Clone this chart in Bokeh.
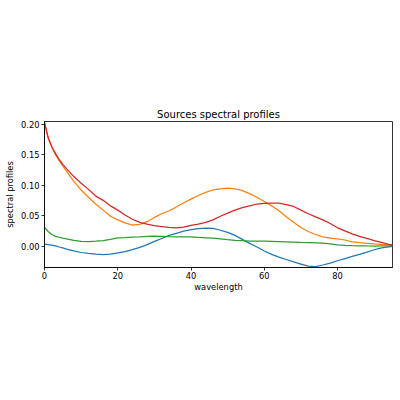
from bokeh.plotting import figure
from bokeh.models import Range1d, FixedTicker, NumeralTickFormatter
from bokeh.embed import file_html
from bokeh.resources import INLINE

wavelength = [0, 1, 2, 3, 4, 5, 6, 8, 10, 12, 14, 16, 18, 20, 22, 24, 26, 28, 30, 32, 34, 36, 38, 40,
              42, 44, 46, 48, 50, 52, 54, 56, 58, 60, 62, 64, 66, 68, 70, 72, 74, 76, 78, 80, 82,
              84, 86, 88, 90, 92, 94, 95]

source_blue = [0.0033, 0.0025, 0.0015, 0.0005, -0.0015, -0.003, -0.005, -0.008, -0.0105, -0.012,
               -0.0132, -0.0138, -0.0132, -0.0112, -0.009, -0.0058, -0.0022, 0.0025, 0.0078, 0.0125,
               0.0175, 0.021, 0.0245, 0.027, 0.0285, 0.0295, 0.029, 0.026, 0.0225, 0.0175, 0.011,
               0.0045, -0.0015, -0.008, -0.0135, -0.018, -0.022, -0.026, -0.0295, -0.033, -0.0335,
               -0.031, -0.028, -0.024, -0.0205, -0.017, -0.0135, -0.010, -0.006, -0.003, -0.0012,
               -0.0005]

source_orange = [0.203, 0.177, 0.162, 0.150, 0.140, 0.131, 0.123, 0.106, 0.092, 0.080, 0.069, 0.059,
                 0.049, 0.043, 0.038, 0.0345, 0.0355, 0.040, 0.047, 0.053, 0.058, 0.064, 0.071, 0.077,
                 0.083, 0.088, 0.092, 0.094, 0.095, 0.094, 0.091, 0.086, 0.080, 0.073, 0.066, 0.058,
                 0.048, 0.039, 0.0305, 0.024, 0.019, 0.015, 0.013, 0.012, 0.010, 0.007, 0.0055,
                 0.0045, 0.0035, 0.003, 0.002, 0.002]

source_green = [0.0305, 0.024, 0.019, 0.016, 0.0145, 0.013, 0.0118, 0.0095, 0.0076, 0.0072, 0.008,
                0.009, 0.011, 0.0135, 0.014, 0.0148, 0.015, 0.0158, 0.0163, 0.016, 0.0155, 0.0152,
                0.0152, 0.015, 0.0142, 0.0136, 0.013, 0.0118, 0.0105, 0.0095, 0.0088, 0.0083, 0.008,
                0.008, 0.0076, 0.0072, 0.0068, 0.0064, 0.006, 0.0057, 0.0054, 0.005, 0.0035, 0.002,
                0.0012, 0.0008, 0.0005, 0.0002, 0.0001, 0.0003, 0.0005, 0.0006]

source_red = [0.203, 0.178, 0.163, 0.152, 0.142, 0.134, 0.127, 0.114, 0.103, 0.093, 0.082, 0.075,
              0.066, 0.059, 0.051, 0.044, 0.039, 0.036, 0.0335, 0.032, 0.0305, 0.030, 0.031, 0.034,
              0.036, 0.039, 0.043, 0.049, 0.054, 0.059, 0.063, 0.066, 0.069, 0.070, 0.0705, 0.0703,
              0.068, 0.065, 0.059, 0.053, 0.048, 0.043, 0.037, 0.030, 0.025, 0.020, 0.016, 0.0125,
              0.009, 0.006, 0.003, 0.002]

x_ticks = [0, 20, 40, 60, 80]
y_ticks = [0.0, 0.05, 0.10, 0.15, 0.20]

series = [
    (source_blue, "#1f77b4"),
    (source_orange, "#ff7f0e"),
    (source_green, "#2ca02c"),
    (source_red, "#d62728"),
]

p = figure(width=396, height=392, output_backend="svg", toolbar_location=None,
           title="Sources spectral profiles",
           x_range=Range1d(0, 95), y_range=Range1d(-0.0351, 0.2043),
           min_border_left=44, min_border_right=4, min_border_top=121, min_border_bottom=125)

for ys, col in series:
    p.line(wavelength, ys, line_color=col, line_width=1.25)

FONT = "DejaVu Sans"
p.title.align = "center"
p.title.text_font = FONT
p.title.text_font_size = "10px"
p.title.text_font_style = "normal"
p.title.text_color = "black"
p.title.standoff = 4

p.xgrid.visible = False
p.ygrid.visible = False
p.outline_line_color = "black"
p.outline_line_width = 0.8
p.background_fill_color = "white"
p.border_fill_color = "white"

p.xaxis.ticker = FixedTicker(ticks=x_ticks)
p.yaxis.ticker = FixedTicker(ticks=y_ticks)
p.yaxis.formatter = NumeralTickFormatter(format="0.00")
p.xaxis.axis_label = "wavelength"
p.yaxis.axis_label = "spectral profiles"

for ax in (p.xaxis[0], p.yaxis[0]):
    ax.axis_line_color = "black"
    ax.axis_line_width = 0.8
    ax.major_tick_line_color = "black"
    ax.major_tick_line_width = 0.8
    ax.major_tick_out = 3
    ax.major_tick_in = 0
    ax.minor_tick_line_color = None
    ax.major_label_text_font = FONT
    ax.major_label_text_font_size = "8.3px"
    ax.major_label_text_color = "black"
    ax.major_label_standoff = 2
    ax.axis_label_text_font = FONT
    ax.axis_label_text_font_size = "8.3px"
    ax.axis_label_text_font_style = "normal"
    ax.axis_label_text_color = "black"
    ax.axis_label_standoff = 3

p.xaxis[0].major_label_standoff = 1
p.xaxis[0].axis_label_standoff = 0

open("out.html", "w").write(file_html(p, INLINE))
